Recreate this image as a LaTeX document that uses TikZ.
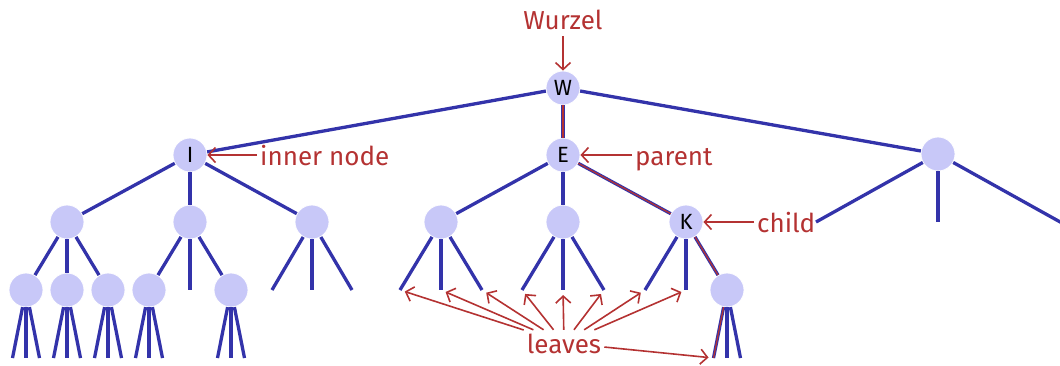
\documentclass[tikz,border=0pt]{standalone}
\usepackage{fontspec}
\setmainfont{Fira Sans}
\usetikzlibrary{arrows.meta}
\definecolor{tblue}{RGB}{51,51,170}
\definecolor{tfill}{RGB}{200,200,248}
\definecolor{tred}{RGB}{180,50,50}
\begin{document}
\begin{tikzpicture}[x=1pt,y=-1pt,
  tn/.style={circle,fill=tfill,draw=white,line width=0.8pt,minimum size=34pt,inner sep=0pt,font=\fontsize{22}{22}\selectfont},
  edge/.style={tblue,line width=3.3pt},
  hl/.style={tred,line width=1.2pt},
  lab/.style={text=tred,font=\fontsize{26}{26}\selectfont,inner sep=3pt,text height=20pt,text depth=0pt},
  note/.style={tred,line width=1.6pt,-{Straight Barb[length=7pt,width=15pt]}}]
\useasboundingbox (0,0) rectangle (1060,365);
% nodes
\node[tn] (W) at (563,88) {W};
\node[tn] (I) at (190,155) {I};
\node[tn] (E) at (563,155) {E};
\node[tn] (R) at (938,154) {};
\node[tn] (a1) at (67,222) {};
\node[tn] (a2) at (190,222) {};
\node[tn] (a3) at (312,222) {};
\node[tn] (b1) at (441,222) {};
\node[tn] (b2) at (563,222) {};
\node[tn] (K) at (686,222) {K};
\foreach \n/\x in {a11/26,a12/67,a13/108,a21/149,a23/231,k3/727}
  \node[tn] (\n) at (\x,290) {};
% leaf coordinates level 3
\foreach \n/\x in {a22/190,a31/272,a32/312,a33/352,b11/400,b12/441,b13/482,b21/522,b22/563,b23/604,k1/645,k2/686}
  \coordinate (\n) at (\x,290);
\coordinate (r1) at (816,222);
\coordinate (r2) at (938,222);
\coordinate (r3) at (1062,223);
% edges
\draw[edge] (W) -- (I);
\draw[edge] (W) -- (E);
\draw[edge] (W) -- (R);
\draw[edge] (I) -- (a1);
\draw[edge] (I) -- (a2);
\draw[edge] (I) -- (a3);
\draw[edge] (E) -- (b1);
\draw[edge] (E) -- (b2);
\draw[edge] (E) -- (K);
\foreach \c in {r1,r2,r3} \draw[edge] (R) -- (\c);
\draw[edge] (a1) -- (a11);
\draw[edge] (a1) -- (a12);
\draw[edge] (a1) -- (a13);
\draw[edge] (a2) -- (a21);
\draw[edge] (a2) -- (a22);
\draw[edge] (a2) -- (a23);
\foreach \c in {a31,a32,a33} \draw[edge] (a3) -- (\c);
\foreach \c in {b11,b12,b13} \draw[edge] (b1) -- (\c);
\foreach \c in {b21,b22,b23} \draw[edge] (b2) -- (\c);
\draw[edge] (K) -- (k1);
\draw[edge] (K) -- (k2);
\draw[edge] (K) -- (k3);
\foreach \n/\x in {a11/26,a12/67,a13/108,a21/149,a23/231,k3/727}
  \foreach \d [count=\i] in {-13.5,0,13.5} {
    \coordinate (\n-\i) at (\x+\d,358);
    \draw[edge] (\n) -- (\n-\i);
  }
% highlighted path
\draw[hl] (W) -- (E);
\draw[hl] (E) -- (K);
\draw[hl] (K) -- (k3);
\draw[hl] (k3) -- (k3-1);
% labels
\node[lab,anchor=base] (wurzel) at (563,29) {Wurzel};
\draw[note,shorten <=4pt] (wurzel) -- (W);
\node[lab,anchor=west] (inner) at (257,155) {inner node};
\draw[note] (inner) -- (I);
\node[lab,anchor=west] (parent) at (632,155) {parent};
\draw[note] (parent) -- (E);
\node[lab,anchor=west] (child) at (754,222) {child};
\draw[note] (child) -- (K);
\node[lab,anchor=base] (leaves) at (564,353) {leaves};
\foreach \c in {b11,b12,b13,b21,b22,b23,k1,k2,k3-1}
  \draw[note,shorten >=5pt] (leaves) -- (\c);
\end{tikzpicture}
\end{document}
